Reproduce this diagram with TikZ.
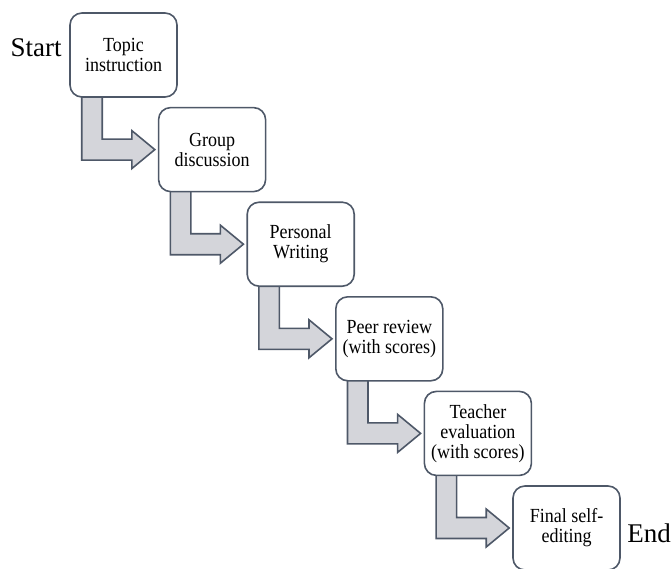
\documentclass[tikz,border=0pt]{standalone}
\usepackage{fontspec}
\setmainfont{Liberation Serif}
\newfontfamily\boxfont[FakeStretch=0.9]{Liberation Serif}
\usetikzlibrary{calc,backgrounds}
\definecolor{edgegray}{RGB}{78,88,104}
\definecolor{shaftgray}{RGB}{212,213,218}
\tikzset{
  stepbox/.style={draw=edgegray, line width=1.6pt, fill=white, rounded corners=12pt,
    minimum width=107pt, minimum height=84pt, inner sep=0pt, align=center,
    font=\boxfont\fontsize{20}{20}\selectfont},
  bentarrow/.style={draw=edgegray, line width=1.6pt, fill=shaftgray, line join=miter},
  endlabel/.style={font=\fontsize{27}{30}\selectfont, inner sep=0pt}
}
% bent block arrow leaving the bottom of box #1 and pointing at the left side of box #2
\newcommand{\stepturn}[2]{%
  \draw[bentarrow]
    ($(#1.south west)+(12.5,-2)$) -- ($(#1.south west)+(33,-2)$)
    |- ($(#2.west)+(-26,-10.5)$) -- ($(#2.west)+(-26,-19)$)
    -- ($(#2.west)+(-3,0)$) -- ($(#2.west)+(-26,19)$)
    -- ($(#2.west)+(-26,10.5)$) -| ($(#1.south west)+(12.5,-2)$) -- cycle;}
\begin{document}
\begin{tikzpicture}[x=1pt,y=-1pt]
\useasboundingbox (0,0) rectangle (672,568);

\node[stepbox] (topic)    at (123.5, 55.0) {Topic\\instruction};
\node[stepbox] (group)    at (212.1,149.6) {Group\\discussion};
\node[stepbox] (personal) at (300.7,244.2) {Personal\\Writing};
\node[stepbox] (peer)     at (389.3,338.8) {Peer review\\(with scores)};
\node[stepbox] (teacher)  at (477.9,433.4) {Teacher\\evaluation\\(with scores)};
\node[stepbox] (final)    at (566.5,528.0) {Final self-\\editing};

\node[endlabel] (start) at (36,48) {Start};
\node[endlabel] (end)   at (649,533) {End};

% arrows go behind the boxes so their shafts start under the box edges
\begin{scope}[on background layer]
\stepturn{topic}{group}
\stepturn{group}{personal}
\stepturn{personal}{peer}
\stepturn{peer}{teacher}
\stepturn{teacher}{final}
\end{scope}
\end{tikzpicture}
\end{document}
